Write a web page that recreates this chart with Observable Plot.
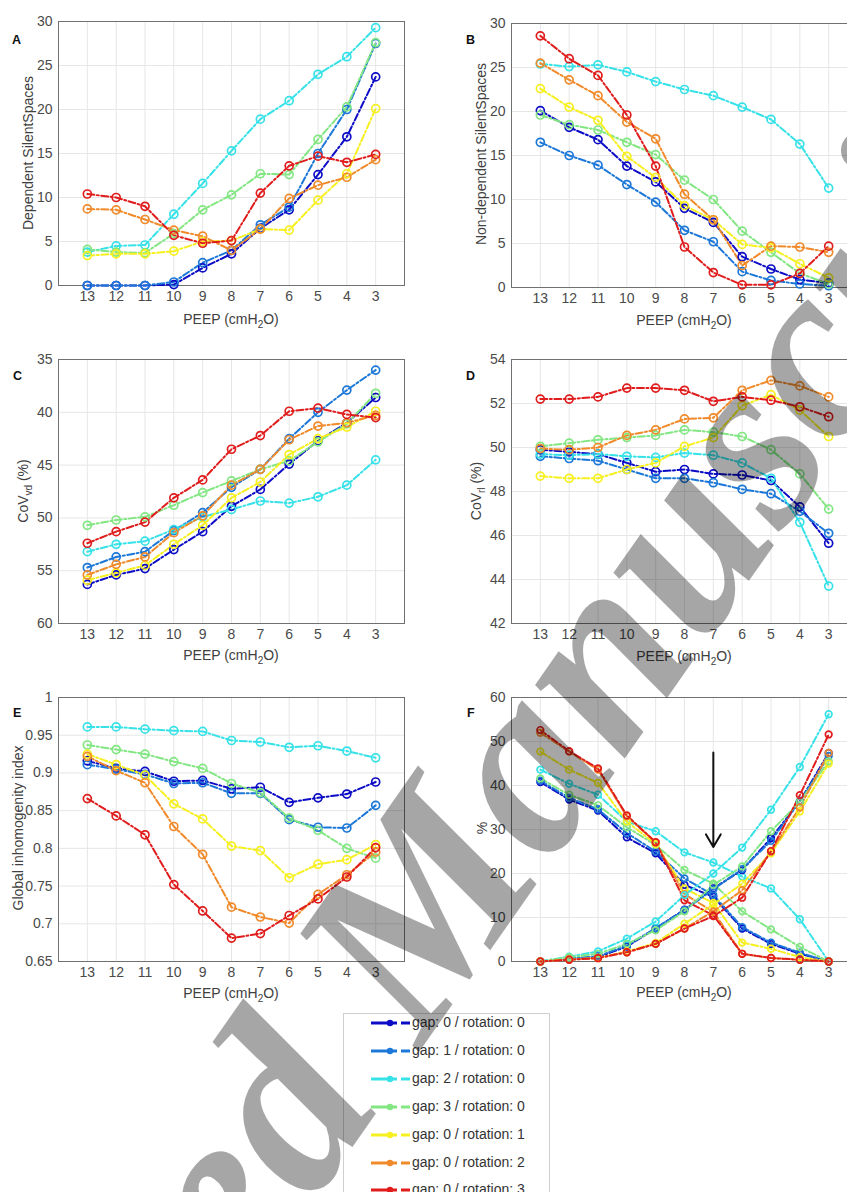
<!DOCTYPE html>
<html><head><meta charset="utf-8">
<script src="https://cdn.jsdelivr.net/npm/d3@7"></script>
<script src="https://cdn.jsdelivr.net/npm/@observablehq/plot@0.6"></script>
<style>
body{margin:0;background:#fff;overflow:hidden;font-family:"Liberation Sans",Arial,sans-serif;}
#root{position:relative;width:847px;height:1192px;overflow:hidden;background:#fff;}
.panel{position:absolute;}
.xl,.yl{position:absolute;color:#404040;font-size:14px;white-space:nowrap;line-height:1;}
.xl{transform:translate(-50%,-50%);}
.yl{transform:translate(-50%,-50%) rotate(-90deg);}
sub{font-size:10px;vertical-align:-4px;line-height:0;}
.let{position:absolute;font-weight:bold;font-size:12.5px;color:#111;}
#legend{position:absolute;left:343px;top:1013px;width:205px;height:200px;border:1px solid #cfcfcf;background:#fff;}
.li{position:absolute;left:27px;height:16px;}
.li span{position:absolute;left:41px;top:-1px;font-size:14px;color:#333;white-space:nowrap;}
#wm{position:absolute;left:0;top:0;pointer-events:none;}
</style>
</head><body><div id="root"></div>
<script>
// ---------------- data ----------------
const peep = [13,12,11,10,9,8,7,6,5,4,3];
const seriesNames = ["gap: 0 / rotation: 0","gap: 1 / rotation: 0","gap: 2 / rotation: 0","gap: 3 / rotation: 0","gap: 0 / rotation: 1","gap: 0 / rotation: 2","gap: 0 / rotation: 3"];

// A: Dependent SilentSpaces
const dependentSS = [
  [0,0,0,0.1,2.0,3.6,6.5,8.6,12.6,16.9,23.7],
  [0,0,0,0.4,2.6,4.0,6.9,8.9,15.0,20.0,27.5],
  [3.8,4.5,4.6,8.1,11.6,15.3,18.9,21.0,24.0,26.0,29.3],
  [4.1,3.8,3.7,5.9,8.6,10.3,12.7,12.6,16.6,20.3,27.6],
  [3.4,3.6,3.6,3.9,5.0,5.1,6.4,6.3,9.7,12.7,20.1],
  [8.7,8.6,7.5,6.3,5.6,4.0,6.4,9.9,11.4,12.3,14.3],
  [10.4,10.0,9.0,5.7,4.8,5.1,10.5,13.6,14.7,14.0,14.9]
];
// B: Non-dependent SilentSpaces
const nonDependentSS = [
  [20.1,18.2,16.8,13.8,12.0,9.0,7.4,3.5,2.1,0.9,0.5],
  [16.5,15.0,13.9,11.7,9.7,6.5,5.2,1.8,0.8,0.4,0.2],
  [25.4,25.1,25.3,24.5,23.4,22.5,21.8,20.5,19.1,16.3,11.3],
  [19.6,18.5,17.9,16.5,15.1,12.2,10.0,6.4,4.0,1.6,0.4],
  [22.6,20.5,19.0,14.9,12.5,9.3,7.7,4.9,4.5,2.7,1.1],
  [25.5,23.6,21.8,18.8,16.9,10.6,7.7,2.5,4.7,4.6,4.0],
  [28.6,26.0,24.1,19.6,13.8,4.6,1.7,0.3,0.3,1.6,4.7]
];
// C: CoV_vd (%)
const covVd = [
  [56.3,55.4,54.8,53.0,51.3,48.9,47.3,44.9,42.7,41.0,38.6],
  [54.7,53.7,53.2,51.2,49.5,47.1,45.4,42.5,40.0,37.9,36.0],
  [53.2,52.5,52.2,51.1,49.9,49.2,48.4,48.6,48.0,46.9,44.5],
  [50.7,50.2,49.9,48.8,47.6,46.5,45.4,44.6,42.8,41.1,38.2],
  [55.9,55.2,54.5,52.5,50.7,48.1,46.6,44.0,42.5,41.4,39.9],
  [55.4,54.4,53.7,51.4,49.8,46.9,45.4,42.6,41.3,41.0,40.3],
  [52.4,51.3,50.4,48.1,46.4,43.5,42.2,39.9,39.6,40.2,40.5]
];
// D: CoV_rl (%)
const covRl = [
  [49.9,49.8,49.7,49.3,48.9,49.0,48.8,48.75,48.5,47.3,45.65],
  [49.6,49.5,49.4,49.0,48.6,48.6,48.4,48.1,47.9,47.1,46.1],
  [49.7,49.65,49.7,49.6,49.55,49.75,49.65,49.3,48.6,46.6,43.7],
  [50.05,50.2,50.35,50.45,50.55,50.8,50.7,50.5,49.9,48.8,47.2],
  [48.7,48.6,48.6,49.0,49.3,50.05,50.45,51.9,52.4,51.7,50.5],
  [49.95,49.9,50.0,50.55,50.8,51.3,51.35,52.6,53.05,52.8,52.3],
  [52.2,52.2,52.3,52.7,52.7,52.6,52.1,52.3,52.15,51.85,51.4]
];
// E: Global inhomogenity index
const globalInhom = [
  [0.916,0.906,0.902,0.889,0.890,0.879,0.881,0.861,0.867,0.872,0.888],
  [0.911,0.905,0.898,0.886,0.887,0.873,0.873,0.838,0.828,0.827,0.857],
  [0.961,0.961,0.958,0.956,0.955,0.943,0.941,0.934,0.936,0.929,0.920],
  [0.937,0.931,0.925,0.915,0.906,0.886,0.874,0.840,0.824,0.800,0.787],
  [0.925,0.911,0.897,0.859,0.839,0.803,0.797,0.761,0.779,0.785,0.805],
  [0.922,0.903,0.887,0.829,0.792,0.722,0.709,0.701,0.739,0.765,0.795],
  [0.866,0.843,0.818,0.752,0.717,0.681,0.687,0.711,0.733,0.762,0.801]
];
// F: % (decreasing family and increasing family)
const pctDecreasing = [
  [40.8,36.8,34.3,28.2,24.6,17.4,14.7,7.5,4.0,1.75,0],
  [41.1,37.2,34.6,29.2,25.0,18.9,15.1,7.8,4.3,2.0,0],
  [43.6,40.4,37.9,31.8,29.6,24.8,22.5,19.3,16.6,9.6,0],
  [41.6,37.9,35.5,30.5,26.5,20.8,17.7,11.4,7.3,3.3,0],
  [47.7,43.6,40.6,31.8,26.7,16.6,13.3,4.3,2.9,1.0,0],
  [52.0,47.7,43.6,33.0,27.1,15.3,11.3,1.75,0.8,0.4,0],
  [52.6,47.8,43.9,33.2,27.1,13.9,10.5,1.75,0.8,0.4,0]
];
const pctIncreasing = [
  [0,0.6,1.0,3.4,7.5,11.8,16.6,20.8,28.0,36.4,47.4],
  [0,0.7,1.2,3.6,7.6,11.7,16.4,21.0,27.4,36.4,46.7],
  [0,1.1,2.3,5.2,9.1,15.1,20.0,25.9,34.5,44.2,56.2],
  [0,1.0,1.75,4.0,7.1,11.4,17.4,21.6,29.6,36.3,45.5],
  [0,0.45,0.75,2.3,4.2,8.6,13.0,17.7,24.6,34.1,45.0],
  [0,0.45,0.9,2.1,4.0,7.5,11.4,16.2,25.0,35.0,47.4],
  [0,0.4,0.75,2.1,4.0,7.5,10.3,14.5,25.1,37.8,51.6]
];
const arrowF = [{peep:7, from:47.5, to:26}];

const ticksA = [0,5,10,15,20,25,30];
const ticksC = [35,40,45,50,55,60];
const ticksD = [42,44,46,48,50,52,54];
const ticksE = [0.65,0.7,0.75,0.8,0.85,0.9,0.95,1];
const ticksF = [0,10,20,30,40,50,60];

// ---------------- style ----------------
const seriesColors = ["#0c0cc6","#1c78d8","#36e2e8","#82e682","#f6f020","#f08a2a","#e01c1c"];
const FW = 346, FH = 264, ML = 58, MR = 10, MT = 10, MB = 34;

function toRows(arrs, tag){
  return arrs.flatMap((a,i)=>peep.map((p,j)=>({peep:p, value:a[j], series:seriesNames[i], key:seriesNames[i]+tag})));
}

function makePanel({rows, yDomain, yTicks, fmt, r=4, extra=[]}){
  return Plot.plot({
    width: ML+FW+MR, height: MT+FH+MB,
    marginLeft: ML, marginRight: MR, marginTop: MT, marginBottom: MB,
    style:{fontSize:"14px", fontFamily:"'Liberation Sans', Arial, sans-serif", color:"#4a4a4a", background:"transparent", overflow:"visible"},
    x:{domain:[14,2], label:null},
    y:{domain:yDomain, label:null},
    color:{domain:seriesNames, range:seriesColors},
    marks:[
      Plot.gridX(peep,{stroke:"#e6e6e6", strokeOpacity:1}),
      Plot.gridY(yTicks,{stroke:"#e6e6e6", strokeOpacity:1}),
      Plot.axisX(peep,{tickSize:0, tickPadding:6, tickFormat:d=>String(d), label:null}),
      Plot.axisY(yTicks,{tickSize:0, tickPadding:6, tickFormat:fmt, label:null}),
      Plot.frame({stroke:"#707070"}),
      Plot.line(rows,{x:"peep", y:"value", z:"key", stroke:"series", strokeWidth:2, strokeDasharray:"7,2.5,2,2.5"}),
      Plot.dot(rows,{x:"peep", y:"value", stroke:"series", r, strokeWidth:1.7, fill:"none"}),
      ...extra
    ]
  });
}

const root = document.getElementById("root");
function place(node, left, top){ node.classList.add("panel"); node.style.left=left+"px"; node.style.top=top+"px"; root.appendChild(node); }

const fmtInt = d=>String(d);
const fmtE = d=>String(+d.toFixed(2));

place(makePanel({rows:toRows(dependentSS,""), yDomain:[0,30], yTicks:ticksA, fmt:fmtInt}), 0, 11);
place(makePanel({rows:toRows(nonDependentSS,""), yDomain:[0,30], yTicks:ticksA, fmt:fmtInt}), 453, 13);
place(makePanel({rows:toRows(covVd,""), yDomain:[60,35], yTicks:ticksC, fmt:fmtInt}), 0, 349);
place(makePanel({rows:toRows(covRl,""), yDomain:[42,54], yTicks:ticksD, fmt:fmtInt}), 453, 349);
place(makePanel({rows:toRows(globalInhom,""), yDomain:[0.65,1], yTicks:ticksE, fmt:fmtE}), 0, 687);
place(makePanel({rows:[...toRows(pctDecreasing,"-dec"), ...toRows(pctIncreasing,"-inc")], yDomain:[0,60], yTicks:ticksF, fmt:fmtInt, r:3.3,
  extra:[Plot.arrow(arrowF,{x1:"peep", x2:"peep", y1:"from", y2:"to", stroke:"#111", strokeWidth:2, headLength:11})]}), 453, 687);

// ---------------- text labels ----------------
function addHTML(cls, html, x, y){ const d=document.createElement("div"); d.className=cls; d.innerHTML=html; d.style.left=x+"px"; d.style.top=y+"px"; root.appendChild(d); }
const peepLabel = "PEEP (cmH<sub>2</sub>O)";
[[231,319],[684,320],[231,655],[684,656],[231,993],[684,992]].forEach(([x,y])=>addHTML("xl",peepLabel,x,y));
addHTML("yl","Dependent SilentSpaces",28,153);
addHTML("yl","Non-dependent SilentSpaces",481,154);
addHTML("yl","CoV<sub>vd</sub> (%)",22.5,491);
addHTML("yl","CoV<sub>rl</sub> (%)",476,491);
addHTML("yl","Global inhomogenity index",17.5,828);
addHTML("yl","%",482,828);
[["A",12,33],["B",466,33],["C",13,369],["D",466,369],["E",13,706],["F",467,706]].forEach(([t,x,y])=>addHTML("let",t,x,y));

// ---------------- legend ----------------
const legend = document.createElement("div"); legend.id="legend"; root.appendChild(legend);
seriesNames.forEach((name,i)=>{
  const it=document.createElement("div"); it.className="li"; it.style.top=(1023-1014+27.9*i-8)+"px";
  const c=seriesColors[i];
  it.innerHTML=`<svg width="40" height="16" style="position:absolute;left:0;top:0"><line x1="0" y1="8" x2="26" y2="8" stroke="${c}" stroke-width="3"/><circle cx="19" cy="8" r="3.2" fill="${c}"/><line x1="30" y1="8" x2="39" y2="8" stroke="${c}" stroke-width="3"/></svg><span>${name}</span>`;
  legend.appendChild(it);
});

// ---------------- watermark ----------------
const NS="http://www.w3.org/2000/svg";
const wm=document.createElementNS(NS,"svg"); wm.setAttribute("id","wm"); wm.setAttribute("width",847); wm.setAttribute("height",1192);
const t=document.createElementNS(NS,"text");
t.setAttribute("transform","translate(-153,1869) rotate(-55)");
t.setAttribute("font-family","'Liberation Serif','DejaVu Serif',serif");
t.setAttribute("font-style","italic");
t.setAttribute("font-weight","bold");
t.setAttribute("font-size","252");
t.setAttribute("fill","#000"); t.setAttribute("fill-opacity","0.35");
t.textContent="Accepted Manuscript";
wm.appendChild(t); root.appendChild(wm);
</script>
</body></html>
